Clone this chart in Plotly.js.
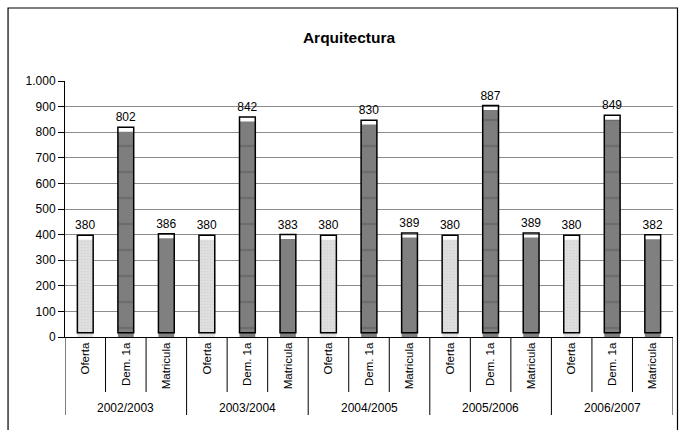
<!DOCTYPE html>
<html>
<head>
<meta charset="utf-8">
<script src="https://cdn.plot.ly/plotly-3.0.1.min.js"></script>
<style>
  html, body { margin: 0; padding: 0; background: #ffffff; }
  #chart { width: 686px; height: 430px; }
</style>
</head>
<body>
<div id="chart"></div>
<script>
// ---- data ----
const years = ['2002/2003', '2003/2004', '2004/2005', '2005/2006', '2006/2007'];
const seriesNames = ['Oferta', 'Dem. 1a', 'Matricula'];
const oferta = [380, 380, 380, 380, 380];
const dem1a = [802, 842, 830, 887, 849];
const matricula = [386, 383, 389, 389, 382];
const yTicks = [0, 100, 200, 300, 400, 500, 600, 700, 800, 900, 1000];

// ---- layout helpers ----
const FONT = 'Arial, "Liberation Sans", sans-serif';
const nS = seriesNames.length;
const nCat = years.length * nS;
const plotTop = 81, plotBottom = 337, plotH = plotBottom - plotTop;
const toPaperY = py => (plotBottom - py) / plotH;
const plotLeft = 64.5, plotRight = 673, plotW = plotRight - plotLeft;
const toPaperX = px => (px - plotLeft) / plotW;
const depth = 17;      // offset of the front-face outline (3D look)
const barW = 0.39;

const seriesValues = [oferta, dem1a, matricula];
const fills = [
  {color: '#e0e0e0', pattern: {shape: '.', fillmode: 'overlay', bgcolor: '#e0e0e0', fgcolor: '#c8c8c8', size: 3, solidity: 0.35}},
  {color: '#7e7e7e', pattern: {shape: '-', fillmode: 'overlay', bgcolor: '#7e7e7e', fgcolor: '#5c5c5c', size: 26, solidity: 0.09}},
  {color: '#808080'}
];

const traces = [];
seriesValues.forEach((vals, s) => {
  const xs = years.map((_, g) => g * nS + s);
  traces.push({
    type: 'bar', x: xs, y: vals, width: barW,
    marker: Object.assign({line: {width: 0}}, fills[s]),
    hoverinfo: 'skip', showlegend: false
  });
});
seriesValues.forEach((vals, s) => {
  const xs = years.map((_, g) => g * nS + s);
  traces.push({
    type: 'bar', x: xs, y: vals, base: depth, width: barW,
    marker: {color: 'rgba(0,0,0,0)', line: {color: '#000000', width: 1.5}},
    text: vals.map(v => String(v)), texttemplate: '%{text}',
    textposition: 'outside', cliponaxis: false, constraintext: 'none',
    textfont: {family: FONT, size: 12, color: '#000000'},
    hoverinfo: 'skip', showlegend: false
  });
});

const tickvals = [], ticktext = [];
years.forEach((_, g) => seriesNames.forEach((n, s) => { tickvals.push(g * nS + s); ticktext.push(n); }));

const shapes = [];
for (let k = 0; k <= nCat; k++) {
  const isGroup = k % nS === 0;
  shapes.push({
    type: 'line', xref: 'x', yref: 'paper',
    x0: k - 0.5, x1: k - 0.5, y0: 0, y1: toPaperY(isGroup ? 415 : 392),
    line: {color: '#000000', width: 1}
  });
}
// outer chart border
shapes.push({
  type: 'rect', xref: 'paper', yref: 'paper',
  x0: toPaperX(7.5), x1: toPaperX(677.5), y0: toPaperY(445), y1: toPaperY(8),
  line: {color: '#000000', width: 1.2}, fillcolor: 'rgba(0,0,0,0)'
});

const annotations = years.map((y, g) => ({
  x: g * nS + (nS - 1) / 2, xref: 'x', y: toPaperY(408), yref: 'paper',
  text: y, showarrow: false, yanchor: 'middle', xanchor: 'center',
  font: {family: FONT, size: 12, color: '#000000'}
}));

const layout = {
  width: 686, height: 430,
  margin: {l: plotLeft, r: 686 - plotRight, t: plotTop, b: 430 - plotBottom, pad: 0},
  paper_bgcolor: '#ffffff', plot_bgcolor: '#ffffff',
  separators: ',.',
  barmode: 'overlay',
  showlegend: false,
  font: {family: FONT, size: 12, color: '#000000'},
  title: {
    text: '<b>Arquitectura</b>', x: 349 / 686, xref: 'container', xanchor: 'center',
    y: 1 - 38 / 430, yref: 'container', yanchor: 'middle',
    font: {family: FONT, size: 15.5, color: '#000000'}
  },
  xaxis: {
    range: [-0.5, nCat - 0.5], tickvals: tickvals, ticktext: ticktext,
    tickangle: -90, ticks: '', showgrid: false, zeroline: false,
    showline: true, linecolor: '#000000', linewidth: 1,
    tickfont: {family: FONT, size: 11.5, color: '#000000'},
    automargin: false, fixedrange: true
  },
  yaxis: {
    range: [0, 1000], tickvals: yTicks, tickformat: ',d',
    ticks: 'outside', ticklen: 6, tickcolor: '#000000', tickwidth: 1,
    showline: true, linecolor: '#000000', linewidth: 1,
    showgrid: true, gridcolor: '#8c8c8c', gridwidth: 1, zeroline: false,
    tickfont: {family: FONT, size: 12, color: '#000000'},
    automargin: false, fixedrange: true
  },
  shapes: shapes,
  annotations: annotations
};

Plotly.newPlot('chart', traces, layout, {displayModeBar: false, staticPlot: true});
</script>
</body>
</html>
